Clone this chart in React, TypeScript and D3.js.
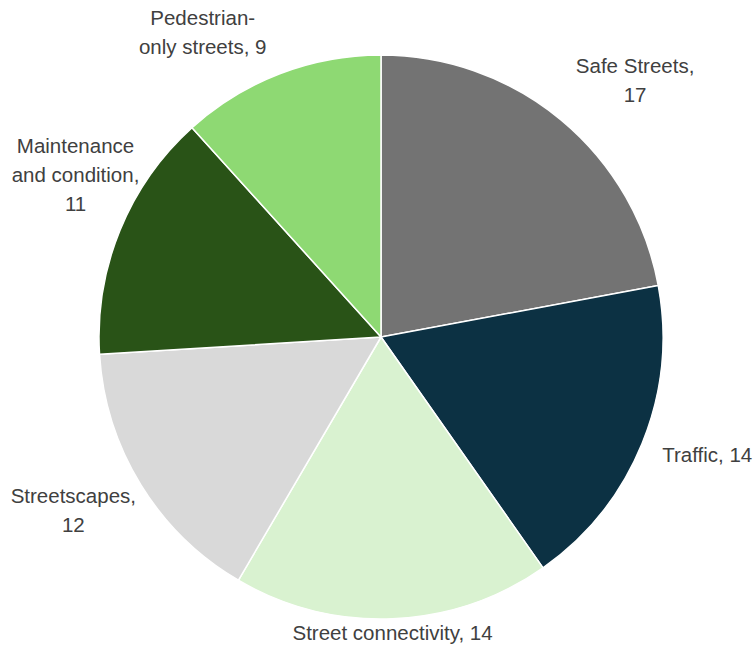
import React from "react";
import * as d3 from "d3";

// values
const categories = [
    "Safe Streets",
    "Traffic",
    "Street connectivity",
    "Streetscapes",
    "Maintenance and condition",
    "Pedestrian-only streets",
];
const values = [17, 14, 14, 12, 11, 9];
// how Excel wrapped each data label
const labelLines = [
    ["Safe Streets,", "17"],
    ["Traffic, 14"],
    ["Street connectivity, 14"],
    ["Streetscapes,", "12"],
    ["Maintenance", "and condition,", "11"],
    ["Pedestrian-", "only streets, 9"],
];
const colors = ["#737373", "#0C3143", "#D9F2D0", "#D9D9D9", "#295317", "#8ED973"];

const W = 755;
const H = 645;
const cx = 381;
const cy = 337;
const R = 282;
const fontSize = 20.5;
const lineH = 29;

// Excel nudges its outside labels a bit; angle shift (deg) and distance past the rim
const labelNudge = [
    { da: 5, out: 79 },
    { da: -2.3, out: 65 },
    { da: 0.1, out: 14 },
    { da: 2.2, out: 71 },
    { da: 5.8, out: 64 },
    { da: -9.3, out: 71 },
];

export default function App() {
    const pie = d3.pie<number>().sort(null).value((d) => d);
    const arcs = pie(values);
    const arc = d3.arc<d3.PieArcDatum<number>>().innerRadius(0).outerRadius(R);

    return (
        <svg
            width={W}
            height={H}
            style={{ position: "absolute", left: 0, top: 0, background: "#fff" }}
            fontFamily="'Liberation Sans', Arial, sans-serif"
            fontSize={fontSize}
        >
            <g transform={`translate(${cx},${cy})`}>
                {arcs.map((a, i) => (
                    <path key={categories[i]} d={arc(a) || ""} fill={colors[i]} stroke="#fff" strokeWidth={1.5} strokeLinejoin="round" />
                ))}
                {arcs.map((a, i) => {
                    const mid = (a.startAngle + a.endAngle) / 2 + (labelNudge[i].da * Math.PI) / 180;
                    const d = R + labelNudge[i].out;
                    const x = Math.sin(mid) * d;
                    const y = -Math.cos(mid) * d;
                    const lines = labelLines[i];
                    const b1 = y - ((lines.length - 1) * lineH - 0.716 * fontSize) / 2;
                    return (
                        <text key={"l" + i} x={x} y={b1} textAnchor="middle" fill="#404040">
                            {lines.map((t, j) => (
                                <tspan key={j} x={x} y={b1 + j * lineH}>
                                    {t}
                                </tspan>
                            ))}
                        </text>
                    );
                })}
            </g>
        </svg>
    );
}
